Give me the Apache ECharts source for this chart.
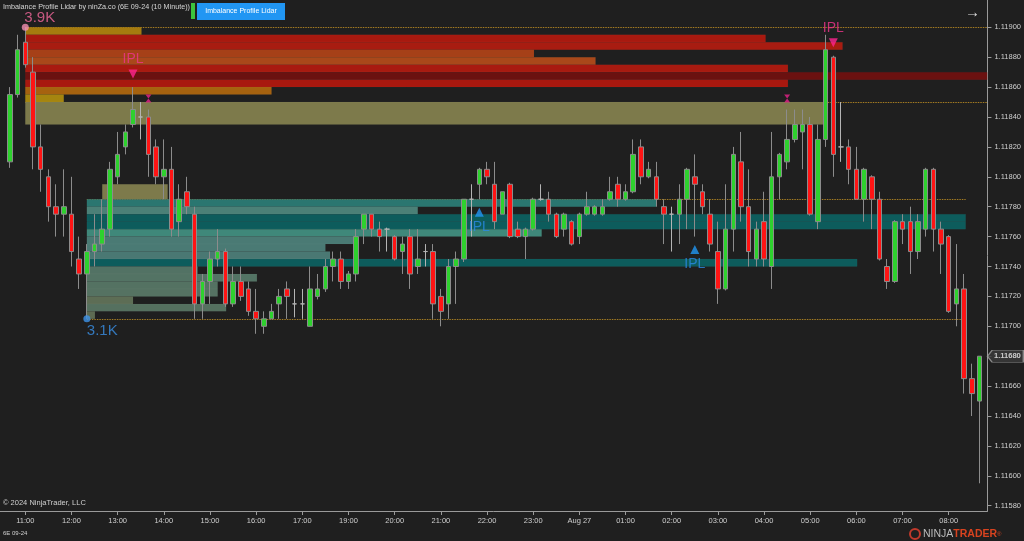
<!DOCTYPE html>
<html><head><meta charset="utf-8">
<script src="https://cdn.jsdelivr.net/npm/echarts@6/dist/echarts.min.js"></script>
<style>html,body{margin:0;padding:0;background:#1f1f1f;}#c{width:1024px;height:541px;}</style>
</head><body><div id="c"></div>
<script>
// ---- candle data (bar index 0 = 10:40, 10-minute bars, 6E 09-24) ----
const opens = [1.11810,1.11855,1.11890,1.11870,1.11820,1.11800,1.11780,1.11775,1.11775,1.11745,
1.11735,1.11750,1.11755,1.11765,1.11800,1.11820,1.11835,1.11840,1.11840,1.11820,
1.11800,1.11805,1.11770,1.11790,1.11775,1.11715,1.11730,1.11745,1.11750,1.11715,
1.11730,1.11725,1.11710,1.11700,1.11705,1.11715,1.11725,1.11715,1.11715,1.11700,
1.11720,1.11725,1.11740,1.11745,1.11730,1.11735,1.11765,1.11775,1.11765,1.11765,
1.11760,1.11750,1.11760,1.11740,1.11750,1.11750,1.11720,1.11715,1.11740,1.11745,
1.11785,1.11795,1.11805,1.11795,1.11775,1.11795,1.11765,1.11760,1.11765,1.11785,
1.11785,1.11775,1.11765,1.11770,1.11760,1.11775,1.11775,1.11775,1.11785,1.11795,
1.11785,1.11790,1.11820,1.11800,1.11800,1.11780,1.11775,1.11775,1.11785,1.11800,
1.11790,1.11775,1.11750,1.11725,1.11765,1.11810,1.11780,1.11745,1.11770,1.11740,
1.11800,1.11810,1.11825,1.11830,1.11835,1.11770,1.11825,1.11880,1.11820,1.11820,
1.11805,1.11785,1.11800,1.11785,1.11740,1.11730,1.11770,1.11770,1.11750,1.11765,
1.11805,1.11765,1.11760,1.11715,1.11725,1.11665,1.11650];
const closes = [1.11855,1.11885,1.11875,1.11820,1.11805,1.11780,1.11775,1.11780,1.11750,1.11735,
1.11750,1.11755,1.11765,1.11805,1.11815,1.11830,1.11845,1.11840,1.11815,1.11800,
1.11805,1.11765,1.11785,1.11780,1.11715,1.11730,1.11745,1.11750,1.11715,1.11730,
1.11720,1.11710,1.11705,1.11705,1.11710,1.11720,1.11720,1.11715,1.11715,1.11725,
1.11725,1.11740,1.11745,1.11730,1.11735,1.11760,1.11775,1.11765,1.11760,1.11765,
1.11745,1.11755,1.11735,1.11745,1.11750,1.11715,1.11710,1.11740,1.11745,1.11785,
1.11785,1.11805,1.11800,1.11770,1.11790,1.11760,1.11760,1.11765,1.11785,1.11785,
1.11775,1.11760,1.11775,1.11755,1.11775,1.11780,1.11780,1.11780,1.11790,1.11785,
1.11790,1.11815,1.11800,1.11805,1.11785,1.11775,1.11775,1.11785,1.11805,1.11795,
1.11780,1.11755,1.11725,1.11765,1.11815,1.11780,1.11750,1.11765,1.11745,1.11800,
1.11815,1.11825,1.11835,1.11835,1.11775,1.11825,1.11885,1.11815,1.11820,1.11805,
1.11785,1.11805,1.11785,1.11745,1.11730,1.11770,1.11765,1.11750,1.11770,1.11805,
1.11765,1.11755,1.11710,1.11725,1.11665,1.11655,1.11680];
const lows = [1.11806,1.11853,1.11873,1.11805,1.11790,1.11770,1.11760,1.11760,1.11740,1.11725,
1.11705,1.11740,1.11750,1.11760,1.11795,1.11815,1.11833,1.11825,1.11800,1.11795,
1.11785,1.11760,1.11760,1.11775,1.11705,1.11705,1.11715,1.11740,1.11713,1.11713,
1.11717,1.11707,1.11695,1.11695,1.11705,1.11705,1.11705,1.11706,1.11705,1.11700,
1.11718,1.11723,1.11730,1.11725,1.11725,1.11730,1.11755,1.11760,1.11750,1.11750,
1.11744,1.11735,1.11725,1.11735,1.11740,1.11705,1.11700,1.11705,1.11715,1.11743,
1.11760,1.11785,1.11795,1.11765,1.11775,1.11759,1.11759,1.11745,1.11764,1.11784,
1.11770,1.11759,1.11760,1.11754,1.11755,1.11774,1.11774,1.11774,1.11784,1.11780,
1.11784,1.11789,1.11795,1.11799,1.11780,1.11755,1.11750,1.11755,1.11765,1.11760,
1.11775,1.11750,1.11715,1.11724,1.11750,1.11770,1.11740,1.11740,1.11740,1.11725,
1.11785,1.11805,1.11823,1.11805,1.11774,1.11765,1.11820,1.11800,1.11810,1.11795,
1.11785,1.11770,1.11765,1.11744,1.11725,1.11729,1.11755,1.11735,1.11745,1.11760,
1.11750,1.11735,1.11709,1.11700,1.11655,1.11640,1.11595];
const highs = [1.11860,1.11895,1.11900,1.11880,1.11835,1.11805,1.11795,1.11805,1.11800,1.11760,
1.11755,1.11775,1.11785,1.11810,1.11830,1.11835,1.11860,1.11850,1.11845,1.11825,
1.11825,1.11820,1.11795,1.11800,1.11780,1.11735,1.11750,1.11765,1.11752,1.11740,
1.11740,1.11730,1.11725,1.11710,1.11715,1.11725,1.11730,1.11725,1.11725,1.11740,
1.11735,1.11745,1.11750,1.11750,1.11737,1.11765,1.11775,1.11775,1.11770,1.11766,
1.11761,1.11760,1.11765,1.11765,1.11755,1.11755,1.11725,1.11745,1.11750,1.11785,
1.11795,1.11806,1.11810,1.11810,1.11790,1.11796,1.11770,1.11766,1.11786,1.11795,
1.11790,1.11776,1.11776,1.11771,1.11776,1.11790,1.11781,1.11785,1.11800,1.11800,
1.11795,1.11825,1.11825,1.11810,1.11810,1.11785,1.11780,1.11795,1.11806,1.11815,
1.11795,1.11785,1.11770,1.11795,1.11820,1.11830,1.11805,1.11770,1.11790,1.11830,
1.11816,1.11845,1.11845,1.11845,1.11840,1.11835,1.11895,1.11881,1.11850,1.11825,
1.11820,1.11806,1.11801,1.11790,1.11745,1.11771,1.11775,1.11780,1.11775,1.11806,
1.11806,1.11770,1.11761,1.11755,1.11735,1.11675,1.11680];

// ---- axis labels ----
const tickIndex = [2,8,14,20,26,32,38,44,50,56,62,68,74,80,86,92,98,104,110,116,122];
const tickLabels = ['11:00','12:00','13:00','14:00','15:00','16:00','17:00','19:00','20:00','21:00','22:00',
  '23:00','Aug 27','01:00','02:00','03:00','04:00','05:00','06:00','07:00','08:00'];
const yTicks = [1.1158,1.1160,1.1162,1.1164,1.1166,1.1168,1.1170,1.1172,1.1174,1.1176,1.1178,1.1180,1.1182,1.1184,1.1186,1.1188,1.1190];

// ---- imbalance profiles (row top price, end bar position) ----
const rowStep = 0.00005;
const topAnchor = 2;
const topRowTops = [1.11900,1.11895,1.11890,1.11885,1.11880,1.11875,1.11870,1.11865,1.11860,1.11855];
const topRowEnds = [17.1,98.2,108.2,68.1,76.1,101.1,127.0,101.1,34.0,7.0];
const topRowColors = ['#a57b0f','#a8190f','#a81c11','#a64018','#a9481a','#a81a10','#6b1110','#a8180f','#a6620f','#a5850f'];
const bottomAnchor = 10;
const bottomRowTops = [1.11785,1.11780,1.11775,1.11770,1.11765,1.11760,1.11755,1.11750,1.11745,1.11740,1.11735,1.11730,1.11725,1.11720,1.11715,1.11710];
const bottomRowEnds = [84.0,53.0,124.2,124.2,69.1,44.8,41.0,41.6,110.1,24.4,32.1,27.0,27.0,16.0,28.1,11.05];
const bottomRowColors = ['#2a7670','#4b8077','#0d5c5c','#0d5c5c','#3f887a','#4a7a74','#4a7a74','#4a7873','#0d5c5c','#527264','#537364','#547262','#557262','#5d6d55','#55705f','#5d6b52'];
// olive zones: [startBar, endBar, topPrice, bottomPrice]
const oliveZones = [[2,105.7,1.11850,1.11835],[12,20.5,1.11795,1.11785]];
// dotted range lines: [startBar, endBar, price]
const rangeLines = [[2,127.03,1.11900],[2,127.03,1.11850],[10,124.2,1.11785],[10,124.2,1.11705]];
// signals
const sellSignalBars = [16,107];
const buySignalBars = [61,89];
const hourglassBars = [18,101];
const topVolLabel = {bar:2, text:'3.9K'};
const bottomVolLabel = {bar:10, text:'3.1K'};

const FONT = 'Liberation Sans, Arial, sans-serif';
const xMin = -1.286, xMax = 127.03;
const yMin = 1.1157646, yMax = 1.1191826;

const candleData = opens.map((o,i)=>[i,o,closes[i],lows[i],highs[i]]);
const rects = [];
topRowTops.forEach((p,i)=>rects.push({value:[topAnchor,topRowEnds[i],p,p-rowStep],itemStyle:{color:topRowColors[i]}}));
bottomRowTops.forEach((p,i)=>rects.push({value:[bottomAnchor,bottomRowEnds[i],p,p-rowStep],itemStyle:{color:bottomRowColors[i]}}));
oliveZones.forEach(z=>rects.push({value:z,itemStyle:{color:'#7d7a4b'}}));

function rectItem(params, api){
  const a = api.coord([api.value(0), api.value(2)]);
  const b = api.coord([api.value(1), api.value(3)]);
  return {type:'rect', shape:{x:a[0], y:a[1], width:b[0]-a[0], height:b[1]-a[1]},
    style:{fill:api.visual('color'), stroke:'rgba(255,255,255,0.05)', lineWidth:0.5}};
}
function lineItem(params, api){
  const a = api.coord([api.value(0), api.value(2)]);
  const b = api.coord([api.value(1), api.value(2)]);
  return {type:'line', shape:{x1:a[0], y1:Math.round(a[1])+0.5, x2:b[0], y2:Math.round(a[1])+0.5},
    style:{stroke:'#a57c22', lineWidth:1, lineDash:[1.5,1]}};
}

const chart = echarts.init(document.getElementById('c'), null, {renderer:'canvas'});
chart.setOption({
  backgroundColor:'#1f1f1f',
  animation:false,
  grid:{left:0, right:36, top:0, bottom:30},
  xAxis:{type:'value', min:xMin, max:xMax,
    axisLine:{show:true, onZero:false, lineStyle:{color:'#9a9a9a', width:1}},
    axisTick:{show:true, customValues:tickIndex, length:4, lineStyle:{color:'#9a9a9a'}},
    axisLabel:{show:true, customValues:tickIndex, color:'#cfcfcf', fontSize:7.5, fontFamily:FONT, margin:6,
      formatter:v=>{const k=tickIndex.indexOf(Math.round(v)); return k>=0?tickLabels[k]:'';}},
    splitLine:{show:false}},
  yAxis:{type:'value', position:'right', min:yMin, max:yMax,
    axisLine:{show:true, onZero:false, lineStyle:{color:'#9a9a9a', width:1}},
    axisTick:{show:true, customValues:yTicks, length:4, lineStyle:{color:'#9a9a9a'}},
    axisLabel:{show:true, customValues:yTicks, color:'#cfcfcf', fontSize:7.5, fontFamily:FONT, margin:7,
      formatter:v=>v.toFixed(5)},
    splitLine:{show:false}},
  series:[
    {type:'custom', name:'lines', renderItem:lineItem, data:rangeLines, z:1, silent:true, clip:true},
    {type:'custom', name:'profile', renderItem:rectItem, data:rects, z:2, silent:true, clip:true},
    {type:'candlestick', name:'6E', data:candleData, encode:{x:0, y:[1,2,3,4]}, barWidth:5, z:3,
      itemStyle:{color:'#2ed12e', color0:'#ff1414', borderColor:'#8c8c8c', borderColor0:'#8c8c8c',
        borderColorDoji:'#b4b4b4', borderWidth:1}},
    {type:'scatter', name:'sell', z:5, silent:true, clip:false,
      data:sellSignalBars.map(i=>[i,highs[i]]), symbol:'path://M0,0 L10,0 L5,9 Z', symbolSize:[9,9], symbolOffset:[0,-13],
      itemStyle:{color:'#ff2490'},
      label:{show:true, formatter:'IPL', position:'top', distance:3, color:'#f0358c', fontSize:14, fontFamily:FONT}},
    {type:'scatter', name:'buy', z:5, silent:true, clip:false,
      data:buySignalBars.map(i=>[i,lows[i]]), symbol:'path://M5,0 L10,9 L0,9 Z', symbolSize:[9,9], symbolOffset:[0,13],
      itemStyle:{color:'#2196f3'},
      label:{show:true, formatter:'IPL', position:'bottom', distance:3, color:'#2b8be6', fontSize:14, fontFamily:FONT}},
    {type:'scatter', name:'hourglass', z:5, silent:true, clip:false,
      data:hourglassBars.map(i=>[i,highs[i]]), symbol:'path://M0,0 L10,0 L5,6 Z M5,6 L10,12 L0,12 Z', symbolSize:[6,8], symbolOffset:[0,-11],
      itemStyle:{color:'#e8228a'}},
    {type:'scatter', name:'topVol', z:5, silent:true, clip:false,
      data:[[topVolLabel.bar, highs[topVolLabel.bar]]], symbolSize:7, itemStyle:{color:'#f48fb1'},
      label:{show:true, formatter:topVolLabel.text, position:'top', align:'left', offset:[-1,2], distance:0, color:'#f0679a', fontSize:15, fontFamily:FONT}},
    {type:'scatter', name:'bottomVol', z:5, silent:true, clip:false,
      data:[[bottomVolLabel.bar, lows[bottomVolLabel.bar]]], symbolSize:7, itemStyle:{color:'#3d94ea'},
      label:{show:true, formatter:bottomVolLabel.text, position:'bottom', align:'left', offset:[0,1], distance:0, color:'#3a8fe3', fontSize:15, fontFamily:FONT}},
    {type:'scatter', name:'lastPrice', z:6, silent:true, clip:false,
      data:[[xMax, closes[closes.length-1]]], symbol:'path://M0,6 L6,0 L46,0 L46,12 L6,12 Z', symbolSize:[36,12], symbolOffset:[18,0],
      itemStyle:{color:'#3b3b3b', borderColor:'#a0a0a0', borderWidth:1},
      label:{show:true, position:'inside', offset:[2,0], formatter:p=>p.value[1].toFixed(5), color:'#e6e6e6', fontSize:7.5, fontWeight:'bold', fontFamily:FONT}}
  ],
  graphic:[
    {type:'text', left:3, top:4, style:{text:'Imbalance Profile Lidar by ninZa.co (6E 09-24 (10 Minute))', fill:'#d6d6d6', font:'7.2px '+FONT}},
    {type:'rect', left:191, top:3, shape:{width:4, height:16}, style:{fill:'#3cc43c'}},
    {type:'rect', left:197, top:3, shape:{width:88, height:17}, style:{fill:'#2196f3'}},
    {type:'text', x:241, y:11.5, style:{text:'Imbalance Profile Lidar', fill:'#ffffff', font:'7px '+FONT, align:'center', verticalAlign:'middle'}},
    {type:'text', left:965, top:5, style:{text:'\u2192', fill:'#dcdcdc', font:'15px '+FONT}},
    {type:'text', left:3, top:499, style:{text:'\u00a9 2024 NinjaTrader, LLC', fill:'#d0d0d0', font:'7.5px '+FONT}},
    {type:'text', left:3, top:530, style:{text:'6E 09-24', fill:'#d0d0d0', font:'6px '+FONT}},
    {type:'circle', shape:{cx:915, cy:534, r:5}, style:{fill:'none', stroke:'#c0392b', lineWidth:2}},
    {type:'text', left:923, top:529, style:{text:'{a|NINJA}{b|TRADER}{c|\u00ae}', rich:{
      a:{fill:'#bdbdbd', font:'10.5px '+FONT}, b:{fill:'#d9431f', font:'bold 10.5px '+FONT}, c:{fill:'#d9431f', font:'6px '+FONT}}}}
  ]
});
</script></body></html>
